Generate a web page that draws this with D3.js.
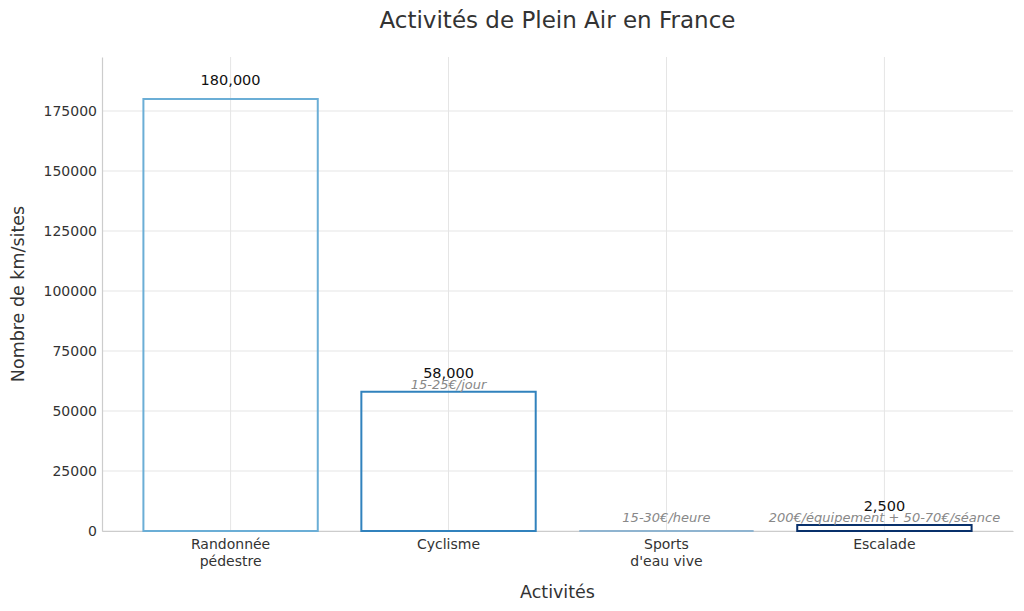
<!DOCTYPE html>
<html><head><meta charset="utf-8">
<script src="https://cdn.jsdelivr.net/npm/d3@7"></script>
<style>body{margin:0;background:#fff}text{font-family:"DejaVu Sans",sans-serif}</style>
</head><body><svg id="c" width="1024" height="611"></svg>
<script>
const categories = ["Randonnée\npédestre", "Cyclisme", "Sports\nd'eau vive", "Escalade"];
const values = [180000, 58000, 0, 2500];
const valueLabels = ["180,000", "58,000", "", "2,500"];
const costs = ["", "15-25€/jour", "15-30€/heure", "200€/équipement + 50-70€/séance"];
const colors = ["#6baed6", "#3182bd", "#8fb4d0", "#08306b"];
const yTicks = [0, 25000, 50000, 75000, 100000, 125000, 150000, 175000];

const svg = d3.select("#c");
const m = {l:102, r:1013, t:57, b:531};
const x = d3.scaleLinear().domain([-0.59, 3.59]).range([m.l, m.r]);
const y = d3.scaleLinear().domain([0, 197500]).range([m.b, m.t]);
const bw = 0.8;

// grid
svg.append("g").selectAll("line").data(yTicks).join("line")
  .attr("x1", m.l).attr("x2", m.r).attr("y1", d=>y(d)).attr("y2", d=>y(d))
  .attr("stroke", "#e5e5e5").attr("stroke-width", 1);
svg.append("g").selectAll("line").data(categories).join("line")
  .attr("x1", (d,i)=>x(i)).attr("x2", (d,i)=>x(i)).attr("y1", m.t).attr("y2", m.b)
  .attr("stroke", "#e5e5e5").attr("stroke-width", 1);

// y axis
const ya = d3.axisLeft(y).tickValues(yTicks).tickSize(0).tickPadding(5).tickFormat(d3.format("d"));
const yg = svg.append("g").attr("transform", `translate(${m.l},0)`).call(ya);
yg.select(".domain").attr("stroke", "#cccccc").attr("stroke-width", 1.2);
yg.selectAll("text").attr("font-size", 14).attr("fill", "#333").attr("font-family", "DejaVu Sans");

// x axis
const xa = d3.axisBottom(x).tickValues([0,1,2,3]).tickSize(0).tickFormat("");
const xg = svg.append("g").attr("transform", `translate(0,${m.b})`).call(xa);
xg.select(".domain").attr("stroke", "#cccccc").attr("stroke-width", 1.2);
categories.forEach((c,i)=>{
  const t = svg.append("text").attr("x", x(i)).attr("y", 549).attr("text-anchor","middle")
    .attr("font-size", 14).attr("fill", "#333");
  c.split("\n").forEach((ln,j)=>t.append("tspan").attr("x", x(i)).attr("dy", j?17:0).text(ln));
});

// bars (drawn as closed paths so zero-height bars remain visible)
svg.append("g").selectAll("path").data(values).join("path")
  .attr("d", (d,i)=>{
    const x0 = x(i-bw/2), x1 = x(i+bw/2), y0 = y(0), y1 = y(d);
    return `M${x0},${y0}L${x0},${y1}L${x1},${y1}L${x1},${y0}Z`;
  })
  .attr("fill", "none").attr("stroke", (d,i)=>colors[i]).attr("stroke-width", 2);

// value labels
svg.append("g").selectAll("text").data(values).join("text")
  .attr("x", (d,i)=>x(i)).attr("y", d=>y(d)-14).attr("text-anchor","middle")
  .attr("font-size", 14.5).attr("fill", "#111").text((d,i)=>valueLabels[i]);

// cost labels
svg.append("g").selectAll("text").data(values).join("text")
  .attr("x", (d,i)=>x(i)).attr("y", d=>y(Math.max(d,2500))-3).attr("text-anchor","middle")
  .attr("font-size", 13).attr("font-style","italic").attr("fill", "#888").text((d,i)=>costs[i]);

// titles
svg.append("text").attr("x", 557.5).attr("y", 28).attr("text-anchor","middle")
  .attr("font-size", 23).attr("fill", "#333").text("Activités de Plein Air en France");
svg.append("text").attr("x", 557.5).attr("y", 598).attr("text-anchor","middle")
  .attr("font-size", 17.5).attr("fill", "#333").text("Activités");
svg.append("text").attr("transform","translate(24,294) rotate(-90)").attr("text-anchor","middle")
  .attr("font-size", 17.5).attr("fill", "#333").text("Nombre de km/sites");
</script></body></html>
